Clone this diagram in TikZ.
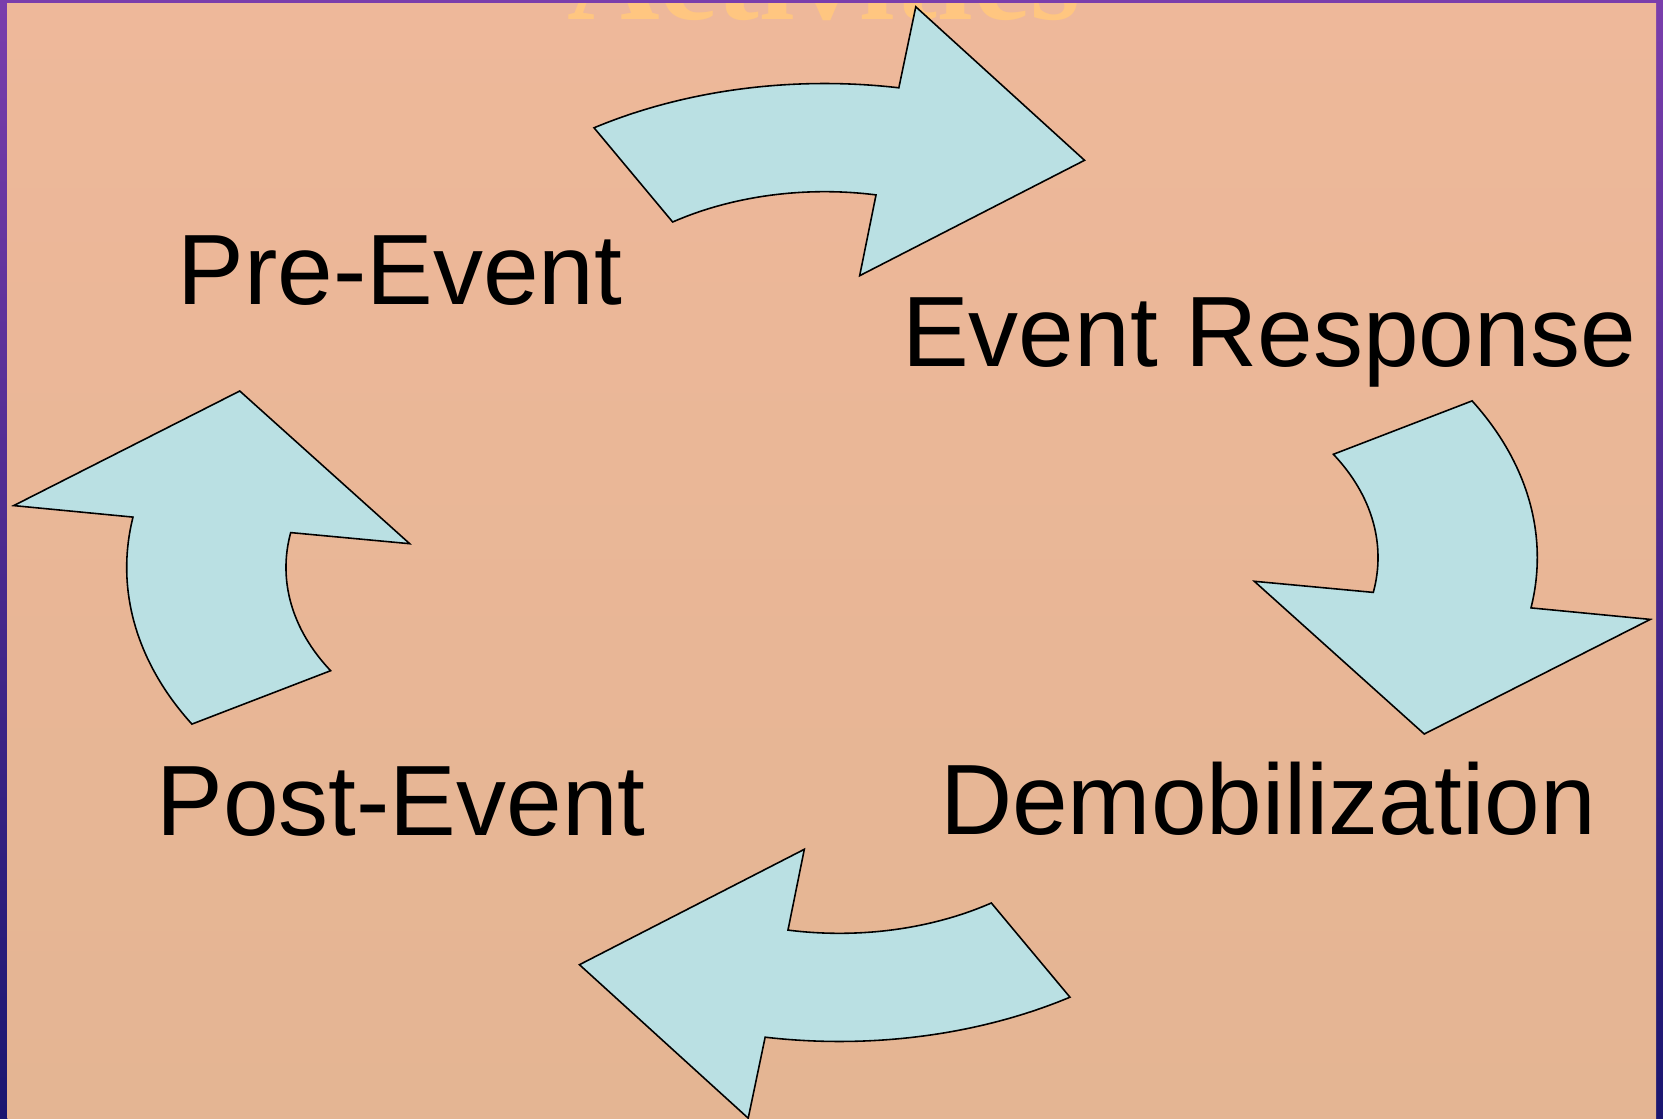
\documentclass[tikz,border=0pt]{standalone}
\usepackage{fontspec}
\setmainfont{Liberation Sans}
\newfontfamily\titlefont{Liberation Serif}
\usetikzlibrary{positioning}
\definecolor{cArrow}{RGB}{186,224,227}
\definecolor{cPeachTop}{RGB}{238,184,154}
\definecolor{cPeachBot}{RGB}{228,181,147}
\definecolor{cPurpleTop}{RGB}{122,62,172}
\definecolor{cPurpleBot}{RGB}{26,22,112}
\definecolor{cGold}{RGB}{255,198,128}
\tikzset{
  phaselabel/.style={anchor=base,inner sep=0pt,text=black,
                     font=\fontsize{28.45}{34}\selectfont},
  titlelabel/.style={anchor=base,inner sep=0pt,text=cGold,
                     font=\titlefont\bfseries\fontsize{36.5}{40}\selectfont},
  cyclearrow/.pic={
    \path[fill=cArrow,draw=black,line width=0.45pt]
      (-161.6,434.7) arc[start angle=121.58,end angle=80.29,radius=299]
      -- (56.9,555.7) -- (171.5,402.2) -- (18.8,286.8) -- (29.9,367.6)
      arc[start angle=79.46,end angle=122.75,radius=190.8] -- cycle;
  }
}

\begin{document}
\begin{tikzpicture}[x=0.1mm,y=0.1mm]

  \useasboundingbox (0,0) rectangle (1663,1118);
  % backdrop
  \shade[top color=cPurpleTop,bottom color=cPurpleBot] (0,0) rectangle (1663,1118);
  \shade[top color=cPeachTop,bottom color=cPeachBot] (7.5,0) rectangle (1656,1115.3);

  \node[titlelabel] (title) at (823.5,1098.5) {Activities};
  \fill[cPurpleTop] (0,1115.3) rectangle (1663,1118);

  % the four cycle arrows
  \coordinate (hub) at (832,555.5);
  \begin{scope}[shift={(hub)},xscale=1.4725,transform shape]
    \pic (toparrow) {cyclearrow};
    \pic[rotate=-90] (rightarrow) {cyclearrow};
    \pic[rotate=180] (bottomarrow) {cyclearrow};
    \pic[rotate=90] (leftarrow) {cyclearrow};
  \end{scope}

  \node[phaselabel] (pre) at (400,813) {Pre-Event};
  \node[phaselabel] (resp) at (1269,751) {Event Response};
  \node[phaselabel] (post) at (401,283) {Post-Event};
  \node[phaselabel] (demob) at (1268,284) {Demobilization};

\end{tikzpicture}
\end{document}
